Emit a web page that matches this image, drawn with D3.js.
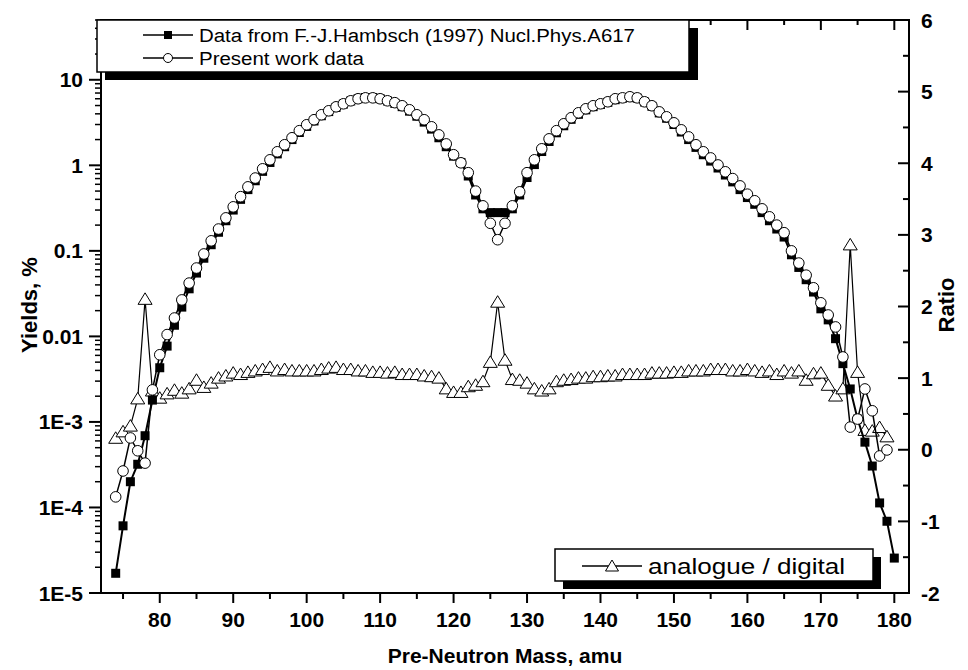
<!DOCTYPE html>
<html><head><meta charset="utf-8">
<script src="https://cdn.jsdelivr.net/npm/d3@7/dist/d3.min.js"></script>
<style>body{margin:0;background:#fff;}svg{display:block;font-family:"Liberation Sans",Arial,Helvetica,sans-serif;}</style>
</head><body>
<svg id="chart" width="968" height="670"></svg>
<script>
// ---------- DATA ----------
const massHambsch = [74,75,76,77,78,79,80,81,82,83,84,85,86,87,88,89,90,91,92,93,94,95,96,97,98,99,100,101,102,103,104,105,106,107,108,109,110,111,112,113,114,115,116,117,118,119,120,121,122,123,124,125,126,127,128,129,130,131,132,133,134,135,136,137,138,139,140,141,142,143,144,145,146,147,148,149,150,151,152,153,154,155,156,157,158,159,160,161,162,163,164,165,166,167,168,169,170,171,172,173,174,175,176,177,178,179,180];
const yieldHambsch = [1.7e-5,6.1e-5,2.0e-4,3.2e-4,6.9e-4,1.8e-3,4.3e-3,7.7e-3,
  0.0135,0.022,0.036,0.055,0.082,0.118,0.165,0.225,0.30,0.40,0.52,0.66,0.85,1.08,1.36,1.65,2.0,2.42,2.85,3.3,3.8,4.25,4.75,5.2,5.65,6.0,6.2,6.2,6.0,5.65,5.3,4.85,4.3,3.75,3.2,2.65,2.1,1.65,1.28,1.08,
  0.75,0.45,0.31,0.28,0.28,0.28,0.31,0.45,0.72,1.02,1.45,1.9,2.4,2.9,3.45,3.95,4.45,4.85,5.15,5.45,5.85,6.1,6.25,6.1,5.5,4.9,4.1,3.55,3.0,2.45,2.0,1.62,1.33,1.12,0.93,0.77,0.64,0.52,0.42,0.35,0.28,0.225,0.18,0.145,0.09,0.064,0.046,0.033,0.021,0.0156,0.0094,0.0048,0.00243,0.00108,5.8e-4,3.05e-4,1.13e-4,6.9e-5,2.56e-5];

const massPresent = [74,75,76,77,78,79,80,81,82,83,84,85,86,87,88,89,90,91,92,93,94,95,96,97,98,99,100,101,102,103,104,105,106,107,108,109,110,111,112,113,114,115,116,117,118,119,120,121,122,123,124,125,126,127,128,129,130,131,132,133,134,135,136,137,138,139,140,141,142,143,144,145,146,147,148,149,150,151,152,153,154,155,156,157,158,159,160,161,162,163,164,165,166,167,168,169,170,171,172,173,174,175,176,177,178,179];
const yieldPresent = [1.33e-4,2.67e-4,6.5e-4,4.6e-4,3.3e-4,2.37e-3,6.1e-3,0.0105,
  0.0164,0.0267,0.042,0.063,0.092,0.131,0.18,0.243,0.327,0.43,0.56,0.71,0.91,1.16,1.44,1.74,2.10,2.54,2.98,3.41,3.90,4.34,4.83,5.24,5.68,6.0,6.15,6.15,6.0,5.68,5.4,4.97,4.46,3.90,3.41,2.82,2.27,1.78,1.33,1.07,
  0.82,0.50,0.336,0.21,0.135,0.21,0.336,0.49,0.82,1.16,1.56,2.04,2.54,3.06,3.6,4.11,4.58,4.97,5.24,5.53,6.0,6.15,6.33,6.15,5.53,4.97,4.22,3.69,3.14,2.60,2.15,1.74,1.44,1.22,1.01,0.84,0.70,0.575,0.46,0.385,0.31,0.25,0.20,0.163,0.10,0.072,0.052,0.037,0.0247,0.0178,0.0129,0.00575,8.7e-4,1.08e-3,2.43e-3,1.35e-3,4.0e-4,4.7e-4];

const massRatio = massPresent;
const ratioValues = [0.16,0.25,0.33,0.71,2.10,0.82,0.72,0.78,
  0.83,0.79,0.85,0.97,0.87,0.93,1.0,1.03,1.07,1.05,1.08,1.1,1.12,1.15,1.1,1.12,1.1,1.1,1.1,1.1,1.12,1.14,1.15,1.12,1.12,1.1,1.1,1.08,1.08,1.07,1.08,1.05,1.05,1.05,1.03,1.02,1.0,0.85,0.8,0.8,
  0.88,0.9,0.95,1.22,2.06,1.25,0.98,0.97,0.93,0.85,0.82,0.85,0.95,0.97,0.98,1.0,1.0,1.02,1.02,1.03,1.03,1.05,1.05,1.05,1.05,1.07,1.07,1.07,1.08,1.08,1.1,1.1,1.1,1.12,1.12,1.12,1.1,1.1,1.12,1.1,1.08,1.1,1.05,1.1,1.07,1.1,0.97,1.06,1.07,0.9,0.75,0.85,2.86,1.08,0.27,0.26,0.31,0.18];

const xTicks = [80,90,100,110,120,130,140,150,160,170,180];
const yLeftTicks = [10,1,0.1,0.01,1e-3,1e-4,1e-5];
const yLeftLabels = ["10","1","0.1","0.01","1E-3","1E-4","1E-5"];
const yRightTicks = [-2,-1,0,1,2,3,4,5,6];
const legendTop = ["Data from F.-J.Hambsch (1997) Nucl.Phys.A617","Present work data"];
const legendBottom = "analogue / digital";

// ---------- LAYOUT ----------
const svg = d3.select("#chart");
const L = 101, R = 909, T = 20, B = 593;
const x = d3.scaleLinear().domain([72,182]).range([L,R]);
const yL = d3.scaleLog().domain([1e-5,50]).range([B,T]);
const yR = d3.scaleLinear().domain([-2,6]).range([B,T]);

const g = svg.append("g");

const xMinor = xTicks.map(v => v-5).filter(v => v>72 && v<182);
const logMinor = [];
[1e-5,1e-4,1e-3,1e-2,1e-1,1,10].forEach(d => { for (let k=2;k<=9;k++){ const v=d*k; if (v<=50) logMinor.push(v);} });
const rMinor = [-1.5,-0.5,0.5,1.5,2.5,3.5,4.5,5.5];

const ax = g.append("g").attr("stroke","#000").attr("stroke-width",2);
xTicks.forEach(v => {
  ax.append("line").attr("x1",x(v)).attr("x2",x(v)).attr("y1",B).attr("y2",B+10);
  ax.append("line").attr("x1",x(v)).attr("x2",x(v)).attr("y1",T).attr("y2",T+10);
});
xMinor.forEach(v => {
  ax.append("line").attr("x1",x(v)).attr("x2",x(v)).attr("y1",B).attr("y2",B+6);
  ax.append("line").attr("x1",x(v)).attr("x2",x(v)).attr("y1",T).attr("y2",T+5);
});
yLeftTicks.forEach(v => ax.append("line").attr("x1",L-12).attr("x2",L).attr("y1",yL(v)).attr("y2",yL(v)));
logMinor.forEach(v => ax.append("line").attr("x1",L-6).attr("x2",L).attr("y1",yL(v)).attr("y2",yL(v)).attr("stroke-width",1.5));
yRightTicks.forEach(v => ax.append("line").attr("x1",R-11).attr("x2",R).attr("y1",yR(v)).attr("y2",yR(v)));
rMinor.forEach(v => ax.append("line").attr("x1",R-6).attr("x2",R).attr("y1",yR(v)).attr("y2",yR(v)));
ax.append("rect").attr("x",L).attr("y",T).attr("width",R-L).attr("height",B-T).attr("fill","none");

const lab = g.append("g").attr("font-weight","bold").attr("font-size",21).attr("fill","#000");
xTicks.forEach(v => lab.append("text").attr("x",x(v)).attr("y",B+34).attr("text-anchor","middle").text(v));
yLeftTicks.forEach((v,i) => lab.append("text").attr("x",L-18).attr("y",yL(v)+7.5).attr("text-anchor","end").text(yLeftLabels[i]));
yRightTicks.forEach(v => lab.append("text").attr("x",R+12).attr("y",yR(v)+7.5).attr("text-anchor","start").text(v));

g.append("text").attr("x",(L+R)/2).attr("y",663).attr("text-anchor","middle").attr("font-weight","bold").attr("font-size",21).text("Pre-Neutron Mass, amu");
g.append("text").attr("transform","translate(37,305) rotate(-90)").attr("text-anchor","middle").attr("font-weight","bold").attr("font-size",22).text("Yields, %");
g.append("text").attr("transform","translate(954,305) rotate(-90)").attr("text-anchor","middle").attr("font-weight","bold").attr("font-size",22).text("Ratio");

// ---------- SERIES ----------
const plot = svg.append("g");
const triPath = "M0,-6.5L7,5L-7,5Z";

const ratioData = massRatio.map((m,i)=>[m,ratioValues[i]]);
plot.append("path").datum(ratioData).attr("fill","none").attr("stroke","#000").attr("stroke-width",1.2)
  .attr("d", d3.line().x(d=>x(d[0])).y(d=>yR(d[1])));
plot.selectAll(".tri").data(ratioData).join("path").attr("class","tri")
  .attr("transform",d=>`translate(${x(d[0])},${yR(d[1])})`).attr("d",triPath)
  .attr("fill","#fff").attr("stroke","#000").attr("stroke-width",1);

const hData = massHambsch.map((m,i)=>[m,yieldHambsch[i]]);
plot.append("path").datum(hData).attr("fill","none").attr("stroke","#000").attr("stroke-width",2)
  .attr("d", d3.line().x(d=>x(d[0])).y(d=>yL(d[1])));
plot.selectAll(".sq").data(hData).join("rect").attr("class","sq")
  .attr("x",d=>x(d[0])-4.5).attr("y",d=>yL(d[1])-4.5).attr("width",9).attr("height",9).attr("fill","#000");

const pData = massPresent.map((m,i)=>[m,yieldPresent[i]]);
plot.append("path").datum(pData).attr("fill","none").attr("stroke","#000").attr("stroke-width",1.5)
  .attr("d", d3.line().x(d=>x(d[0])).y(d=>yL(d[1])));
plot.selectAll(".ci").data(pData).join("circle").attr("class","ci")
  .attr("cx",d=>x(d[0])).attr("cy",d=>yL(d[1])).attr("r",5.3)
  .attr("fill","#fff").attr("stroke","#000").attr("stroke-width",1);

// ---------- LEGENDS ----------
const lg = svg.append("g");
lg.append("rect").attr("x",105).attr("y",28).attr("width",593).attr("height",52).attr("fill","#000");
lg.append("rect").attr("x",97).attr("y",20).attr("width",592).attr("height",52).attr("fill","#fff").attr("stroke","#000").attr("stroke-width",1.5);
const rows = [35,58];
rows.forEach((yy,i) => {
  lg.append("line").attr("x1",143).attr("x2",193).attr("y1",yy).attr("y2",yy).attr("stroke","#000").attr("stroke-width",1.5);
  if (i===0) lg.append("rect").attr("x",164).attr("y",yy-4).attr("width",8).attr("height",8).attr("fill","#000");
  else lg.append("circle").attr("cx",168).attr("cy",yy).attr("r",4.5).attr("fill","#fff").attr("stroke","#000").attr("stroke-width",1);
  lg.append("text").attr("x",199).attr("y",yy+7).attr("font-size",18)
    .attr("textLength", i===0 ? 436 : 165).attr("lengthAdjust","spacingAndGlyphs").text(legendTop[i]);
});
lg.append("rect").attr("x",563).attr("y",557).attr("width",318).attr("height",32).attr("fill","#000");
lg.append("rect").attr("x",555).attr("y",549).attr("width",318).attr("height",32).attr("fill","#fff").attr("stroke","#000").attr("stroke-width",1.5);
lg.append("line").attr("x1",582).attr("x2",642).attr("y1",566).attr("y2",566).attr("stroke","#000").attr("stroke-width",1.5);
lg.append("path").attr("transform","translate(612,566)").attr("d","M0,-6L6.5,5L-6.5,5Z").attr("fill","#fff").attr("stroke","#000").attr("stroke-width",1);
lg.append("text").attr("x",648).attr("y",574).attr("font-size",22).attr("textLength",197).attr("lengthAdjust","spacingAndGlyphs").text(legendBottom);
</script>
</body></html>
